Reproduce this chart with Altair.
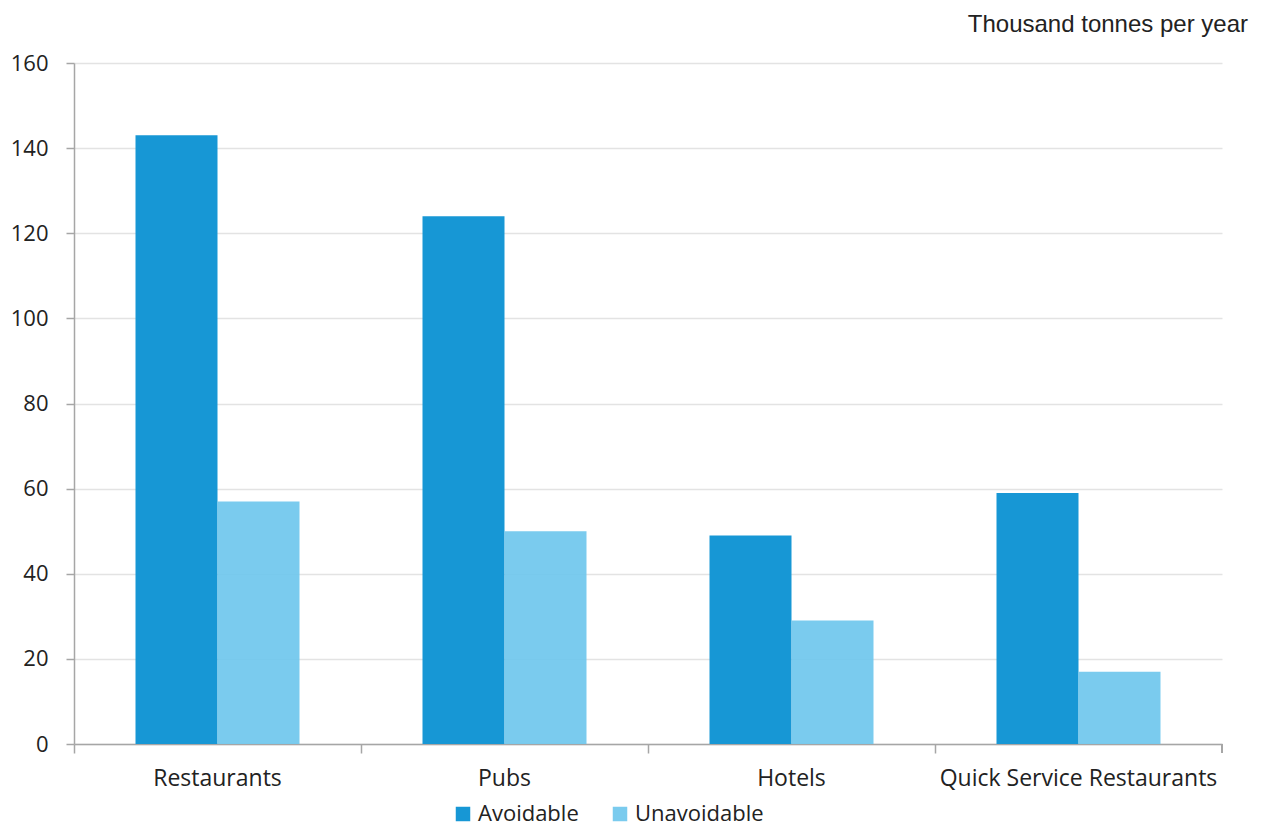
import altair as alt
import pandas as pd

categories = ["Restaurants", "Pubs", "Hotels", "Quick Service Restaurants"]
avoidable = [143, 124, 49, 59]
unavoidable = [57, 50, 29, 17]
series = ["Avoidable", "Unavoidable"]
colors = ["#1797D5", "#6BC5EC"]
y_ticks = [0, 20, 40, 60, 80, 100, 120, 140, 160]
unit_label = "Thousand tonnes per year"

rows = []
for c, a, u in zip(categories, avoidable, unavoidable):
    rows.append({"category": c, "type": "Avoidable", "value": a})
    rows.append({"category": c, "type": "Unavoidable", "value": u})
df = pd.DataFrame(rows)

W, H = 1148, 681

bars = alt.Chart(df).mark_bar(opacity=1).encode(
    x=alt.X("category:N", sort=categories, title=None,
            scale=alt.Scale(paddingInner=0, paddingOuter=0),
            axis=alt.Axis(labelAngle=0, bandPosition=0, tickSize=9, labelPadding=14,
                          labelLimit=0,
                          labelFont="Open Sans", labelFontSize=23, labelColor="#222222",
                          domainColor="#A6A6A6", tickColor="#A6A6A6", domainWidth=1.5,
                          tickWidth=1.5, grid=False)),
    xOffset=alt.XOffset("type:N", sort=series,
                        scale=alt.Scale(paddingInner=0, paddingOuter=0.75)),
    y=alt.Y("value:Q", title=None,
            scale=alt.Scale(domain=[0, 160], nice=False),
            axis=alt.Axis(values=y_ticks, tickSize=8, labelPadding=18,
                          labelFont="Open Sans", labelFontSize=22, labelColor="#222222",
                          domainColor="#A6A6A6", tickColor="#A6A6A6", domainWidth=1.5,
                          tickWidth=1.5, gridColor="#E3E3E3", gridWidth=1.5)),
    color=alt.Color("type:N", sort=series,
                    scale=alt.Scale(domain=series, range=colors),
                    legend=alt.Legend(title=None, orient="none", direction="horizontal",
                                      legendX=378, legendY=740, padding=0,
                                      symbolType="square", symbolSize=210,
                                      symbolStrokeWidth=0, symbolOpacity=1,
                                      labelFont="Open Sans", labelFontSize=22,
                                      labelColor="#222222", labelOffset=4,
                                      columnPadding=30)),
    opacity=alt.Opacity("type:N", sort=series,
                        scale=alt.Scale(domain=series, range=[1.0, 0.9]), legend=None),
)

end_tick = alt.Chart(df).mark_rule(color="#A6A6A6", strokeWidth=1.5).encode(
    x=alt.value(W), y=alt.value(H), y2=alt.value(H + 9)
)

unit_text = alt.Chart(pd.DataFrame({"t": [unit_label]})).mark_text(
    align="right", baseline="alphabetic", font="Liberation Sans", fontSize=24,
    color="#222222"
).encode(text="t:N", x=alt.value(W + 26), y=alt.value(-31))

chart = alt.layer(bars, end_tick, unit_text).properties(
    width=W, height=H,
    padding={"left": 66, "top": 55, "right": 31, "bottom": 84},
    autosize=alt.AutoSizeParams(type="none"),
).configure_view(stroke=None)

chart.save("out.html", embed_options={"renderer": "svg", "actions": False})
